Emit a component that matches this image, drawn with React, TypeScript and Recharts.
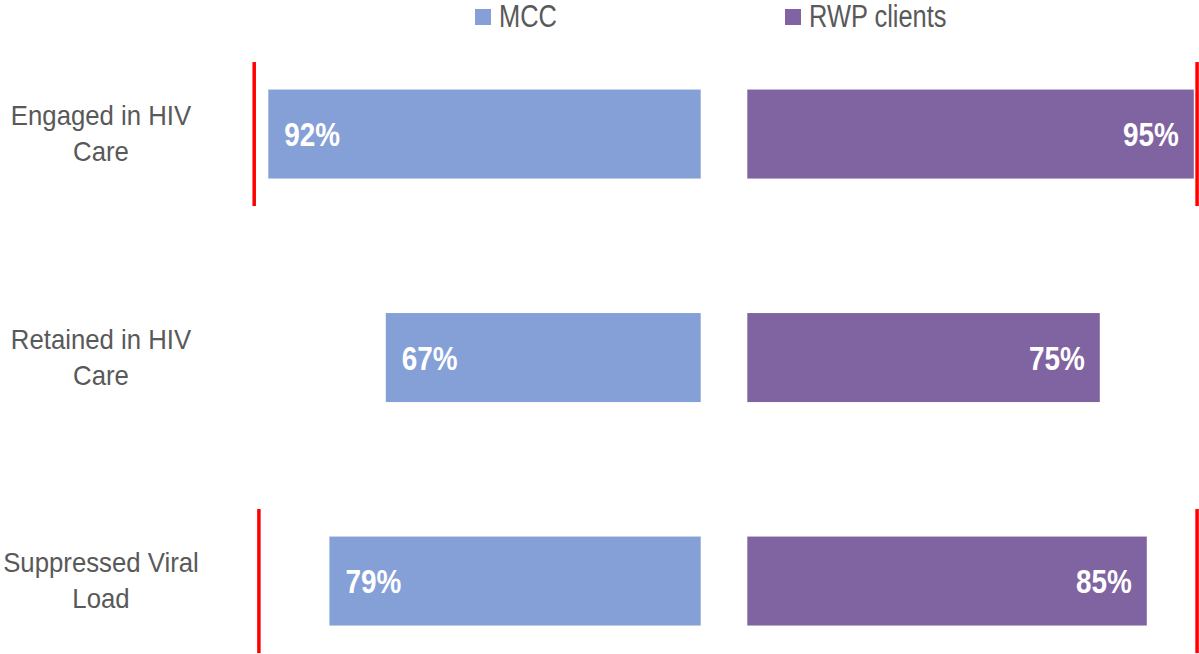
import React from 'react';
import { ComposedChart, Bar, XAxis, YAxis, LabelList, Legend } from 'recharts';

// ---- data ----
const categories = ['Engaged in HIV Care', 'Retained in HIV Care', 'Suppressed Viral Load'];
const mccValues = [92, 67, 79];
const rwpValues = [95, 75, 85];
// red marker lines (value on each side's % scale), null = no marker
const mccMarkers: (number | null)[] = [95, null, 94];
const rwpMarkers: (number | null)[] = [95.7, null, 95.7];
const seriesNames = ['MCC', 'RWP clients'];

// ---- styles ----
const MCC_COLOR = '#85A0D7';
const RWP_COLOR = '#8064A2';
const TEXT_GREY = '#595959';
const MARKER_COLOR = '#FF0000';
const FONT = "'Liberation Sans', Arial, sans-serif";
const NARROW_SCALE = 0.82;

const CH = 694;
const TOP = 22.55;
const PLOT_H = 670.5;
const PLOT_W = 470;
const BAR_SIZE = 89;
const MARKER_RATIO = 1.618; // marker height relative to bar height
const LABEL_X = 101;

const rows = categories.map((name, i) => ({
  name,
  mcc: mccValues[i],
  rwp: rwpValues[i],
  mccMarker: mccMarkers[i],
  rwpMarker: rwpMarkers[i],
}));

const CategoryTick = (props: any) => {
  const { y, payload } = props;
  const words = String(payload.value).split(' ');
  const last = words.pop() as string;
  const lines = [words.join(' '), last];
  return (
    <text
      transform={`translate(${LABEL_X},${y}) scale(0.92,1)`}
      textAnchor="middle"
      fill={TEXT_GREY}
      fontSize={28}
      fontFamily={FONT}
    >
      {lines.map((l, i) => (
        <tspan key={i} x={0} y={-9 + i * 36}>
          {l}
        </tspan>
      ))}
    </text>
  );
};

const makeLabel = (side: 'left' | 'right') => (props: any) => {
  const { x, y, width, height, value } = props;
  const x0 = Math.min(Number(x), Number(x) + Number(width));
  const x1 = Math.max(Number(x), Number(x) + Number(width));
  const cy = Number(y) + Number(height) / 2;
  const fs = 34;
  const tx = side === 'left' ? x0 + 16 : x1 - 15;
  return (
    <text
      transform={`translate(${tx},${cy + 0.358 * fs}) scale(${NARROW_SCALE},1)`}
      x={0}
      y={0}
      textAnchor={side === 'left' ? 'start' : 'end'}
      fill="#FFFFFF"
      fontSize={fs}
      fontWeight="bold"
      fontFamily={FONT}
    >
      {`${value}%`}
    </text>
  );
};

// bar with optional red marker line, positioned with the bar's own pixel scale
const makeShape = (side: 'left' | 'right', valueKey: string, markerKey: string) => (props: any) => {
  const { x, y, width, height, payload, fill } = props;
  const X = Number(x);
  const W = Number(width);
  const Y = Number(y);
  const H = Number(height);
  const x0 = Math.min(X, X + W);
  const x1 = Math.max(X, X + W);
  const val = Number(payload[valueKey]);
  const m = payload[markerKey];
  let line = null;
  if (m != null && val) {
    const ppu = (x1 - x0) / val;
    const mx = side === 'left' ? x1 - m * ppu : x0 + m * ppu;
    const cy = Y + H / 2;
    const half = (H * MARKER_RATIO) / 2;
    line = <line x1={mx} x2={mx} y1={cy - half} y2={cy + half} stroke={MARKER_COLOR} strokeWidth={3.5} />;
  }
  return (
    <g>
      <rect x={x0} y={Y} width={x1 - x0} height={H} fill={fill} />
      {line}
    </g>
  );
};

const LegendContent = (props: any) => {
  const { payload } = props;
  return (
    <div style={{ display: 'flex', alignItems: 'center', height: 34 }}>
      {(payload || []).map((p: any, i: number) => (
        <div key={i} style={{ display: 'flex', alignItems: 'center' }}>
          <span style={{ display: 'inline-block', width: 16, height: 16, background: p.color }} />
          <span
            style={{
              display: 'inline-block',
              marginLeft: 8,
              fontSize: 31,
              lineHeight: '34px',
              color: TEXT_GREY,
              fontFamily: FONT,
              whiteSpace: 'nowrap',
              transform: `scaleX(${NARROW_SCALE})`,
              transformOrigin: 'left center',
            }}
          >
            {p.value}
          </span>
        </div>
      ))}
    </div>
  );
};

export default function App() {
  const leftW = 720;
  const leftAxisW = 230.7;
  const rightLeft = 700;
  const rightW = 530;
  const rightMarginL = 47.3;
  return (
    <div
      style={{
        position: 'absolute',
        left: 0,
        top: 0,
        width: 1199,
        height: 654,
        overflow: 'hidden',
        background: '#FFFFFF',
      }}
    >
      <div style={{ position: 'absolute', left: 0, top: 0 }}>
        <ComposedChart
          layout="vertical"
          width={leftW}
          height={CH}
          data={rows}
          margin={{ top: TOP, right: leftW - leftAxisW - PLOT_W, bottom: CH - TOP - PLOT_H, left: 0 }}
        >
          <XAxis type="number" domain={[0, 100]} reversed hide />
          <YAxis
            type="category"
            dataKey="name"
            width={leftAxisW}
            axisLine={false}
            tickLine={false}
            tick={<CategoryTick />}
            interval={0}
          />
          <Legend
            layout="horizontal"
            verticalAlign="middle"
            align="center"
            content={<LegendContent />}
            wrapperStyle={{ top: 0, left: 475, width: 200, height: 34 }}
          />
          <Bar
            dataKey="mcc"
            name={seriesNames[0]}
            fill={MCC_COLOR}
            barSize={BAR_SIZE}
            isAnimationActive={false}
            shape={makeShape('left', 'mcc', 'mccMarker')}
          >
            <LabelList dataKey="mcc" content={makeLabel('left')} />
          </Bar>
        </ComposedChart>
      </div>
      <div style={{ position: 'absolute', left: rightLeft, top: 0 }}>
        <ComposedChart
          layout="vertical"
          width={rightW}
          height={CH}
          data={rows}
          margin={{ top: TOP, right: rightW - rightMarginL - PLOT_W, bottom: CH - TOP - PLOT_H, left: rightMarginL }}
        >
          <XAxis type="number" domain={[0, 100]} hide />
          <YAxis type="category" dataKey="name" hide />
          <Legend
            layout="horizontal"
            verticalAlign="middle"
            align="center"
            content={<LegendContent />}
            wrapperStyle={{ top: 0, left: 85, width: 260, height: 34 }}
          />
          <Bar
            dataKey="rwp"
            name={seriesNames[1]}
            fill={RWP_COLOR}
            barSize={BAR_SIZE}
            isAnimationActive={false}
            shape={makeShape('right', 'rwp', 'rwpMarker')}
          >
            <LabelList dataKey="rwp" content={makeLabel('right')} />
          </Bar>
        </ComposedChart>
      </div>
    </div>
  );
}
